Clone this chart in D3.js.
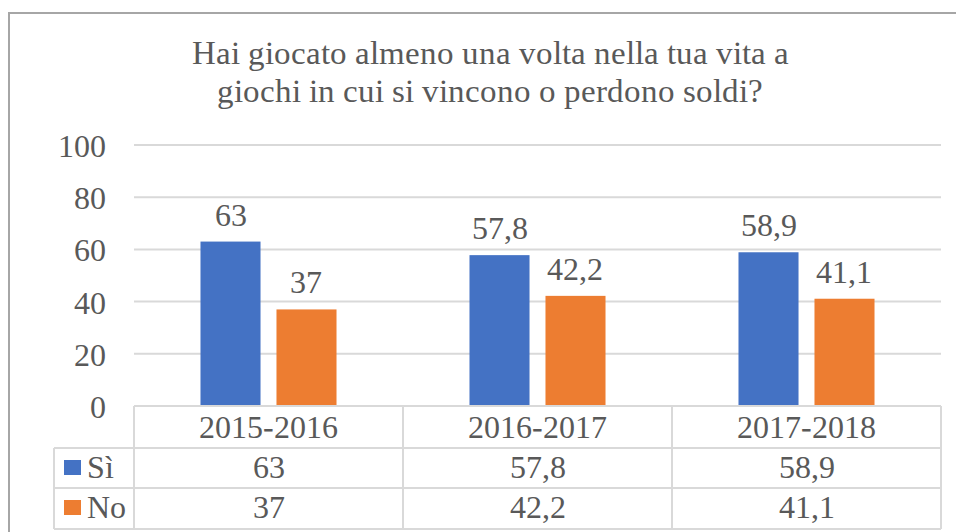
<!DOCTYPE html>
<html>
<head>
<meta charset="utf-8">
<script src="https://cdn.jsdelivr.net/npm/d3@7"></script>
<style>
  @font-face { font-family: "ChartSerif"; src: local("Liberation Serif"), local("LiberationSerif"); }
</style>
</head>
<body style="margin:0">
<svg id="chart" width="956" height="532"></svg>
<script>
const categories = ["2015-2016", "2016-2017", "2017-2018"];
const seriesNames = ["Sì", "No"];
const siValues = [63, 57.8, 58.9];
const noValues = [37, 42.2, 41.1];
const yTicks = [0, 20, 40, 60, 80, 100];
const titleLines = ["Hai giocato almeno una volta nella tua vita a", "giochi in cui si vincono o perdono soldi?"];

const W = 956, H = 532;
const plot = {left: 134, right: 941, top: 145, bottom: 406};
const colors = ["#4472C4", "#ED7D31"];
const TXT = "#595959";
const FONT = "ChartSerif, Liberation Serif, serif";
const fmt = v => String(v).replace(".", ",");

const svg = d3.select("#chart");

// every label: same font, grey
function label(sel, size) {
  return sel.attr("font-family", FONT)
    .attr("font-size", size)
    .attr("fill", TXT);
}

// outer chart frame (only top and left are inside the crop)
svg.append("path")
  .attr("d", `M9,${H} L9,13 L${W},13`)
  .attr("fill", "none")
  .attr("stroke", "#a6a6a6")
  .attr("stroke-width", 2);

// title
svg.append("g").selectAll("text")
  .data(titleLines)
  .enter()
  .append("text")
    .attr("x", 490)
    .attr("y", (d, i) => 64 + i * 38)
    .attr("text-anchor", "middle")
    .call(label, 33)
    .text(d => d);

const x0 = d3.scaleBand()
  .domain(categories)
  .range([plot.left, plot.right]);

const x1 = d3.scaleBand()
  .domain(seriesNames)
  .range([0, x0.bandwidth()])
  .paddingInner(0.21)
  .paddingOuter(0.875);

const y = d3.scaleLinear()
  .domain([0, 100])
  .range([plot.bottom, plot.top]);

// gridlines
svg.append("g").selectAll("line")
  .data(yTicks.filter(d => d > 0))
  .enter()
  .append("line")
    .attr("x1", plot.left)
    .attr("x2", plot.right)
    .attr("y1", d => y(d))
    .attr("y2", d => y(d))
    .attr("stroke", "#d9d9d9")
    .attr("stroke-width", 2);

// y axis labels
const yAxis = svg.append("g")
  .attr("transform", `translate(${plot.left},0)`)
  .call(d3.axisLeft(y).tickValues(yTicks).tickSize(0).tickPadding(28));
yAxis.select(".domain").remove();
yAxis.attr("font-family", FONT).attr("font-size", 32);
yAxis.selectAll("text")
  .call(label, 32)
  .attr("dy", "0.36em");

const series = [siValues, noValues];

// bars
const groups = svg.append("g").selectAll("g")
  .data(categories)
  .enter()
  .append("g")
    .attr("transform", d => `translate(${x0(d)},0)`);

groups.selectAll("rect")
  .data((d, i) => seriesNames.map((s, j) => ({s, v: series[j][i], j})))
  .enter()
  .append("rect")
    .attr("x", d => x1(d.s))
    .attr("width", x1.bandwidth())
    .attr("y", d => y(d.v))
    .attr("height", d => y(0) - y(d.v))
    .attr("fill", d => colors[d.j]);

groups.selectAll("text")
  .data((d, i) => seriesNames.map((s, j) => ({s, v: series[j][i], j})))
  .enter()
  .append("text")
    .attr("x", d => x1(d.s) + x1.bandwidth() / 2)
    .attr("y", d => y(d.v) - 16)
    .attr("text-anchor", "middle")
    .call(label, 32)
    .text(d => fmt(d.v));

// data table
const rowTop = [406, 448, 488, 529];
const tableLeft = 54;
const grid = svg.append("g")
  .attr("stroke", "#d9d9d9")
  .attr("stroke-width", 2);

grid.append("line")
  .attr("x1", plot.left).attr("x2", plot.right)
  .attr("y1", rowTop[0]).attr("y2", rowTop[0]);
rowTop.slice(1).forEach(r => {
  grid.append("line")
    .attr("x1", tableLeft).attr("x2", plot.right)
    .attr("y1", r).attr("y2", r);
});
grid.append("line")
  .attr("x1", tableLeft).attr("x2", tableLeft)
  .attr("y1", rowTop[1]).attr("y2", rowTop[3]);
[plot.left, ...categories.map(c => x0(c) + x0.bandwidth())].forEach(xx => {
  grid.append("line")
    .attr("x1", xx).attr("x2", xx)
    .attr("y1", rowTop[0]).attr("y2", rowTop[3]);
});

// category header row
svg.append("g").selectAll("text")
  .data(categories)
  .enter()
  .append("text")
    .attr("x", d => x0(d) + x0.bandwidth() / 2)
    .attr("y", 438)
    .attr("text-anchor", "middle")
    .call(label, 32)
    .text(d => d);

// value rows with legend keys
series.forEach((vals, j) => {
  const rowY = rowTop[j + 1];
  svg.append("rect")
    .attr("x", 64)
    .attr("y", rowY + 12)
    .attr("width", 17)
    .attr("height", 15)
    .attr("fill", colors[j]);
  svg.append("text")
    .attr("x", 87)
    .attr("y", rowY + 30)
    .call(label, 32)
    .text(seriesNames[j]);
  svg.append("g").selectAll("text")
    .data(vals)
    .enter()
    .append("text")
      .attr("x", (d, i) => x0(categories[i]) + x0.bandwidth() / 2)
      .attr("y", rowY + 30)
      .attr("text-anchor", "middle")
      .call(label, 32)
      .text(d => fmt(d));
});
</script>
</body>
</html>
